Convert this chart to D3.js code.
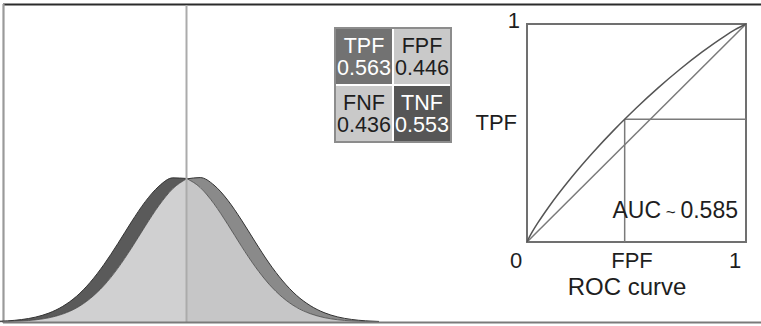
<!DOCTYPE html>
<html>
<head>
<meta charset="utf-8">
<script src="https://cdn.jsdelivr.net/npm/d3@7"></script>
<style>
  html, body { margin: 0; padding: 0; background: #ffffff; }
  svg { display: block; font-family: "Liberation Sans", Arial, sans-serif; }
</style>
</head>
<body>
<svg id="chart" width="761" height="326"></svg>
<script>
// ---- data ----
const xGrid = [-3.5, -3.25, -3.0, -2.75, -2.5, -2.25, -2.0, -1.75, -1.5, -1.25, -1.0, -0.75, -0.5, -0.25, 0,
               0.25, 0.5, 0.75, 1.0, 1.25, 1.5, 1.75, 2.0, 2.25, 2.5, 2.75, 3.0, 3.25, 3.5];
const healthyDensity = [0.0035, 0.0079, 0.0167, 0.0332, 0.0617, 0.108, 0.177, 0.274, 0.397, 0.540, 0.691, 0.830, 0.937, 0.994, 0.990,
                        0.927, 0.815, 0.673, 0.522, 0.381, 0.261, 0.168, 0.101, 0.0575, 0.0307, 0.0154, 0.0072, 0.0032, 0.0013];
const diseasedDensity = [0.0012, 0.0030, 0.0068, 0.0145, 0.029, 0.055, 0.097, 0.162, 0.252, 0.370, 0.510, 0.661, 0.804, 0.919, 0.987,
                         0.996, 0.944, 0.840, 0.703, 0.552, 0.407, 0.283, 0.184, 0.113, 0.0647, 0.0349, 0.0177, 0.0084, 0.0038];
const threshold = 0;

const cellRows = ["top", "bottom"];
const cellCols = ["left", "right"];
const cellLabels = ["TPF", "FPF", "FNF", "TNF"];
const cellValues = ["0.563", "0.446", "0.436", "0.553"];

const rocFPF = [0, 0.01, 0.02, 0.03, 0.05, 0.1, 0.2, 0.3, 0.4, 0.446, 0.5, 0.6, 0.7, 0.8, 0.9, 0.95, 1];
const rocTPF = [0, 0.0211, 0.0393, 0.0564, 0.0885, 0.1619, 0.2923, 0.4093, 0.5166, 0.563, 0.616, 0.7083, 0.7937, 0.8721, 0.9426, 0.9738, 1];
const operatingFPF = 0.446;
const operatingTPF = 0.563;
const aucText = "0.585";

// ---- drawing ----
const svg = d3.select("#chart");
const ink = "#1e1e1e";

// outer frame
svg.append("line").attr("x1", 3).attr("x2", 761).attr("y1", 4.5).attr("y2", 4.5)
  .attr("stroke", "#2b2b2b").attr("stroke-width", 2);
svg.append("line").attr("x1", 3.5).attr("x2", 3.5).attr("y1", 4).attr("y2", 323)
  .attr("stroke", "#9a9a9a").attr("stroke-width", 2.2);

// distributions
const xD = d3.scaleLinear().domain([-3.5, 3.5]).range([186.5 - 192.5, 186.5 + 192.5]);
const yD = d3.scaleLinear().domain([0, 1]).range([322, 177]);

const pts = xGrid.map((x, i) => ({ x, h: healthyDensity[i], d: diseasedDensity[i] }));
const leftPts = pts.filter(p => p.x <= threshold);
const rightPts = pts.filter(p => p.x >= threshold);
const curve = d3.curveMonotoneX;

const areaBand = (lo, hi) => d3.area().x(p => xD(p.x)).y0(p => yD(p[lo])).y1(p => yD(p[hi])).curve(curve);
const areaBase = key => d3.area().x(p => xD(p.x)).y0(yD(0)).y1(p => yD(p[key])).curve(curve);
const lineOf = key => d3.line().x(p => xD(p.x)).y(p => yD(p[key])).curve(curve);

// excess bands
svg.append("path").datum(leftPts).attr("d", areaBand("d", "h")).attr("fill", "#5a5a5a");
svg.append("path").datum(rightPts).attr("d", areaBand("h", "d")).attr("fill", "#8a8a8a");
// overlap
svg.append("path").datum(leftPts).attr("d", areaBase("d")).attr("fill", "#d0d0d1");
svg.append("path").datum(rightPts).attr("d", areaBase("h")).attr("fill", "#c6c6c7");
// outlines
svg.append("path").datum(leftPts).attr("d", lineOf("h")).attr("fill", "none").attr("stroke", "#333").attr("stroke-width", 1);
svg.append("path").datum(rightPts).attr("d", lineOf("d")).attr("fill", "none").attr("stroke", "#333").attr("stroke-width", 1);
svg.append("path").datum(leftPts).attr("d", lineOf("d")).attr("fill", "none").attr("stroke", "#444").attr("stroke-width", 0.8);
svg.append("path").datum(rightPts).attr("d", lineOf("h")).attr("fill", "none").attr("stroke", "#444").attr("stroke-width", 0.8);

// threshold line
svg.append("line").attr("x1", xD(threshold)).attr("x2", xD(threshold)).attr("y1", 5).attr("y2", 322)
  .attr("stroke", "#ababab").attr("stroke-width", 2);

// bottom frame line
svg.append("line").attr("x1", 3).attr("x2", 761).attr("y1", 322.5).attr("y2", 322.5)
  .attr("stroke", "#7a7a7a").attr("stroke-width", 2);

// confusion matrix
const mx = d3.scaleBand().domain(cellCols).range([335, 451]);
const my = d3.scaleBand().domain(cellRows).range([28, 142]);
const cellFill = ["#727272", "#c9c9c9", "#c9c9c9", "#565656"];
const cellText = ["#ffffff", ink, ink, "#ffffff"];
const cells = cellLabels.map((lab, i) => ({
  lab, val: cellValues[i], col: cellCols[i % 2], row: cellRows[Math.floor(i / 2)], i
}));
svg.append("rect").attr("x", 335).attr("y", 28).attr("width", 116).attr("height", 114)
  .attr("fill", "#ffffff").attr("stroke", "#8c8c8c").attr("stroke-width", 2);
const g = svg.selectAll("g.cell").data(cells).enter().append("g").attr("class", "cell");
g.append("rect")
  .attr("x", c => mx(c.col) + 1).attr("y", c => my(c.row) + 1)
  .attr("width", mx.bandwidth() - 2).attr("height", my.bandwidth() - 2)
  .attr("fill", c => cellFill[c.i]);
g.append("text").text(c => c.lab)
  .attr("x", c => mx(c.col) + mx.bandwidth() / 2).attr("y", c => my(c.row) + 25)
  .attr("text-anchor", "middle").attr("font-size", 21.5).attr("fill", c => cellText[c.i]);
g.append("text").text(c => c.val)
  .attr("x", c => mx(c.col) + mx.bandwidth() / 2).attr("y", c => my(c.row) + 47)
  .attr("text-anchor", "middle").attr("font-size", 21.5).attr("fill", c => cellText[c.i]);

// ROC panel
const xR = d3.scaleLinear().domain([0, 1]).range([527, 746]);
const yR = d3.scaleLinear().domain([0, 1]).range([242, 24]);

svg.append("rect").attr("x", xR(0)).attr("y", yR(1)).attr("width", xR(1) - xR(0)).attr("height", yR(0) - yR(1))
  .attr("fill", "none").attr("stroke", "#707070").attr("stroke-width", 2);
svg.append("line").attr("x1", xR(0)).attr("y1", yR(0)).attr("x2", xR(1)).attr("y2", yR(1))
  .attr("stroke", "#7a7a7a").attr("stroke-width", 1.5);
svg.append("line").attr("x1", xR(operatingFPF)).attr("y1", yR(operatingTPF)).attr("x2", xR(operatingFPF)).attr("y2", yR(0))
  .attr("stroke", "#7a7a7a").attr("stroke-width", 1.5);
svg.append("line").attr("x1", xR(operatingFPF)).attr("y1", yR(operatingTPF)).attr("x2", xR(1)).attr("y2", yR(operatingTPF))
  .attr("stroke", "#7a7a7a").attr("stroke-width", 1.5);
const roc = rocFPF.map((f, i) => ({ f, t: rocTPF[i] }));
svg.append("path").datum(roc)
  .attr("d", d3.line().x(p => xR(p.f)).y(p => yR(p.t)).curve(d3.curveMonotoneX))
  .attr("fill", "none").attr("stroke", "#555").attr("stroke-width", 1.5);

const fs = 22;
svg.append("text").text("1").attr("x", 520).attr("y", 28).attr("text-anchor", "end").attr("font-size", fs).attr("fill", ink);
svg.append("text").text("TPF").attr("x", 517).attr("y", 130).attr("text-anchor", "end").attr("font-size", fs).attr("fill", ink);
svg.append("text").text("0").attr("x", 516).attr("y", 268).attr("text-anchor", "middle").attr("font-size", fs).attr("fill", ink);
svg.append("text").text("FPF").attr("x", 632).attr("y", 268).attr("text-anchor", "middle").attr("font-size", fs).attr("fill", ink);
svg.append("text").text("1").attr("x", 735).attr("y", 268).attr("text-anchor", "middle").attr("font-size", fs).attr("fill", ink);
svg.append("text").text("ROC curve").attr("x", 627).attr("y", 295).attr("text-anchor", "middle").attr("font-size", 24).attr("fill", ink);
const auc = svg.append("text").attr("x", 738).attr("y", 218).attr("text-anchor", "end").attr("font-size", 23).attr("fill", ink);
auc.append("tspan").text("AUC");
auc.append("tspan").text(" ~ ").attr("font-size", 17);
auc.append("tspan").text(aucText);
</script>
</body>
</html>
